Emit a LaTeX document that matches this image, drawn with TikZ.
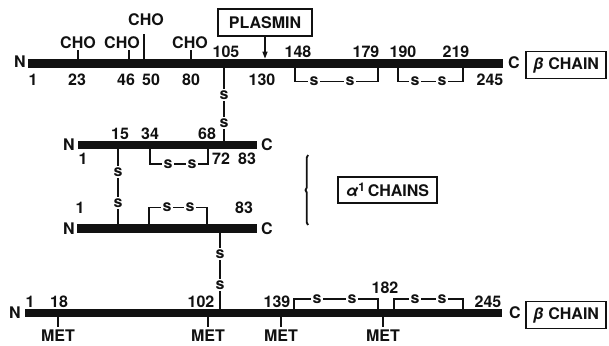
\documentclass[tikz,border=0pt]{standalone}
\usepackage{fontspec}
\setmainfont{TeX Gyre Heros}
\usetikzlibrary{arrows.meta,decorations.pathreplacing}
\definecolor{ink}{HTML}{111111}
\tikzset{
  every node/.style={font=\fontsize{16}{18}\selectfont\bfseries,text=ink,inner sep=0pt},
  chain/.style={ink,line width=8.5pt},
  bond/.style={ink,line width=1.3pt},
  sulfur/.style={fill=white,inner sep=1.2pt},
  tagbox/.style={draw=ink,line width=1.3pt,inner xsep=5pt,minimum height=27pt}
}
% bracket bond: name, x1, x2, y on chain, y of bracket, x of both s
\newcommand{\bridge}[7]{\draw[bond] (#2,#4)--(#2,#5)--(#3,#5)--(#3,#4);
  \node[sulfur] (#1a) at (#6,#5) {s};\node[sulfur] (#1b) at (#7,#5) {s};}
% vertical bond between chains: name, x, y top, y bottom, y of both s
\newcommand{\slink}[6]{\draw[bond] (#2,#3)--(#2,#4);
  \node[sulfur] (#1a) at (#2,#5) {s};\node[sulfur] (#1b) at (#2,#6) {s};}

\begin{document}
\begin{tikzpicture}[x=1pt,y=-1pt]
\useasboundingbox (0,0) rectangle (609,345);
% upper beta chain
\slink{lk1}{224}{64}{145}{95}{123}
\draw[chain] (28,63.5) -- (503,63.5);
\node (bN1) at (20,62) {N};
\node (bC1) at (514,63) {C};
\node[tagbox,minimum width=80pt] (beta1) at (566,65) {\textit{β} CHAIN};
\draw[bond] (78,59)--(78,50);\draw[bond] (129,59)--(129,50);
\draw[bond] (144,59)--(144,34);\draw[bond] (191,59)--(191,50);
\node (cho1) at (78,42.5) {CHO};\node (cho2) at (122,42.5) {CHO};
\node (cho3) at (146,20) {CHO};\node (cho4) at (190,42.5) {CHO};
\foreach \x/\t in {33/1,77/23,126/46,151/50,191/80,262/130,490/245}
  \node (bl\t) at (\x,79.5) {\t};
\foreach \x/\t in {226/105,298/148,366/179,403/190,456/219}
  \node (bu\t) at (\x,51.5) {\t};
\node[tagbox,minimum width=94pt] (plasmin) at (265,22.5) {PLASMIN};
\draw[bond,-{Triangle[length=7pt,width=5pt]}] (plasmin.south) -- ++(0,22);
\bridge{br1}{295}{378}{66}{81.5}{314}{350}
\bridge{br2}{398}{463}{66}{81.5}{415}{442}
% alpha chains
\slink{lk2}{118}{145}{228}{172}{203}
\draw[chain] (78,145) -- (257,145);
\draw[chain] (77,228.5) -- (257,228.5);
\node (aN1) at (69,145) {N};\node (aC1) at (267,145) {C};
\node (aN2) at (69,228.5) {N};\node (aC2) at (267,229) {C};
\foreach \x/\t in {120/15,150/34,207/68}
  \node (au\t) at (\x,134) {\t};
\foreach \x/\t in {83/1,221/72,247/83}
  \node (al\t) at (\x,159) {\t};
\node (a21) at (80,208) {1};\node (a283) at (244,208) {83};
\bridge{br3}{150}{208}{147}{164}{168}{192}
\bridge{br4}{149}{207}{226}{207.5}{167}{190}
\draw[ink,line width=1.8pt,decorate,decoration={brace,amplitude=2.5pt}] (308,225) -- (308,155);
\node[tagbox,minimum height=26pt,minimum width=99pt] (alpha) at (387.5,190)
  {\textit{α}\raisebox{.5ex}{\fontsize{12}{13}\selectfont 1}\,CHAINS};
% lower beta chain
\slink{lk3}{220}{229}{313}{254}{285}
\draw[chain] (25,313) -- (502,313);
\node (bN2) at (15,313) {N};
\node (bC2) at (515,313) {C};
\node[tagbox,minimum width=80pt] (beta2) at (566,315) {\textit{β} CHAIN};
\foreach \x/\t in {30/1,59/18,201/102,277/139,488/245}
  \node (bt\t) at (\x,302) {\t};
\node (bt182) at (385,288) {182};
\foreach \x/\m in {58/a,208/b,281/c,383/d}{
  \draw[bond] (\x,317)--(\x,327);
  \node (met\m) at (\x,336) {MET};}
\bridge{br5}{294}{378}{310}{299}{317}{352}
\bridge{br6}{394}{463}{310}{299}{415}{442}
\end{tikzpicture}
\end{document}
